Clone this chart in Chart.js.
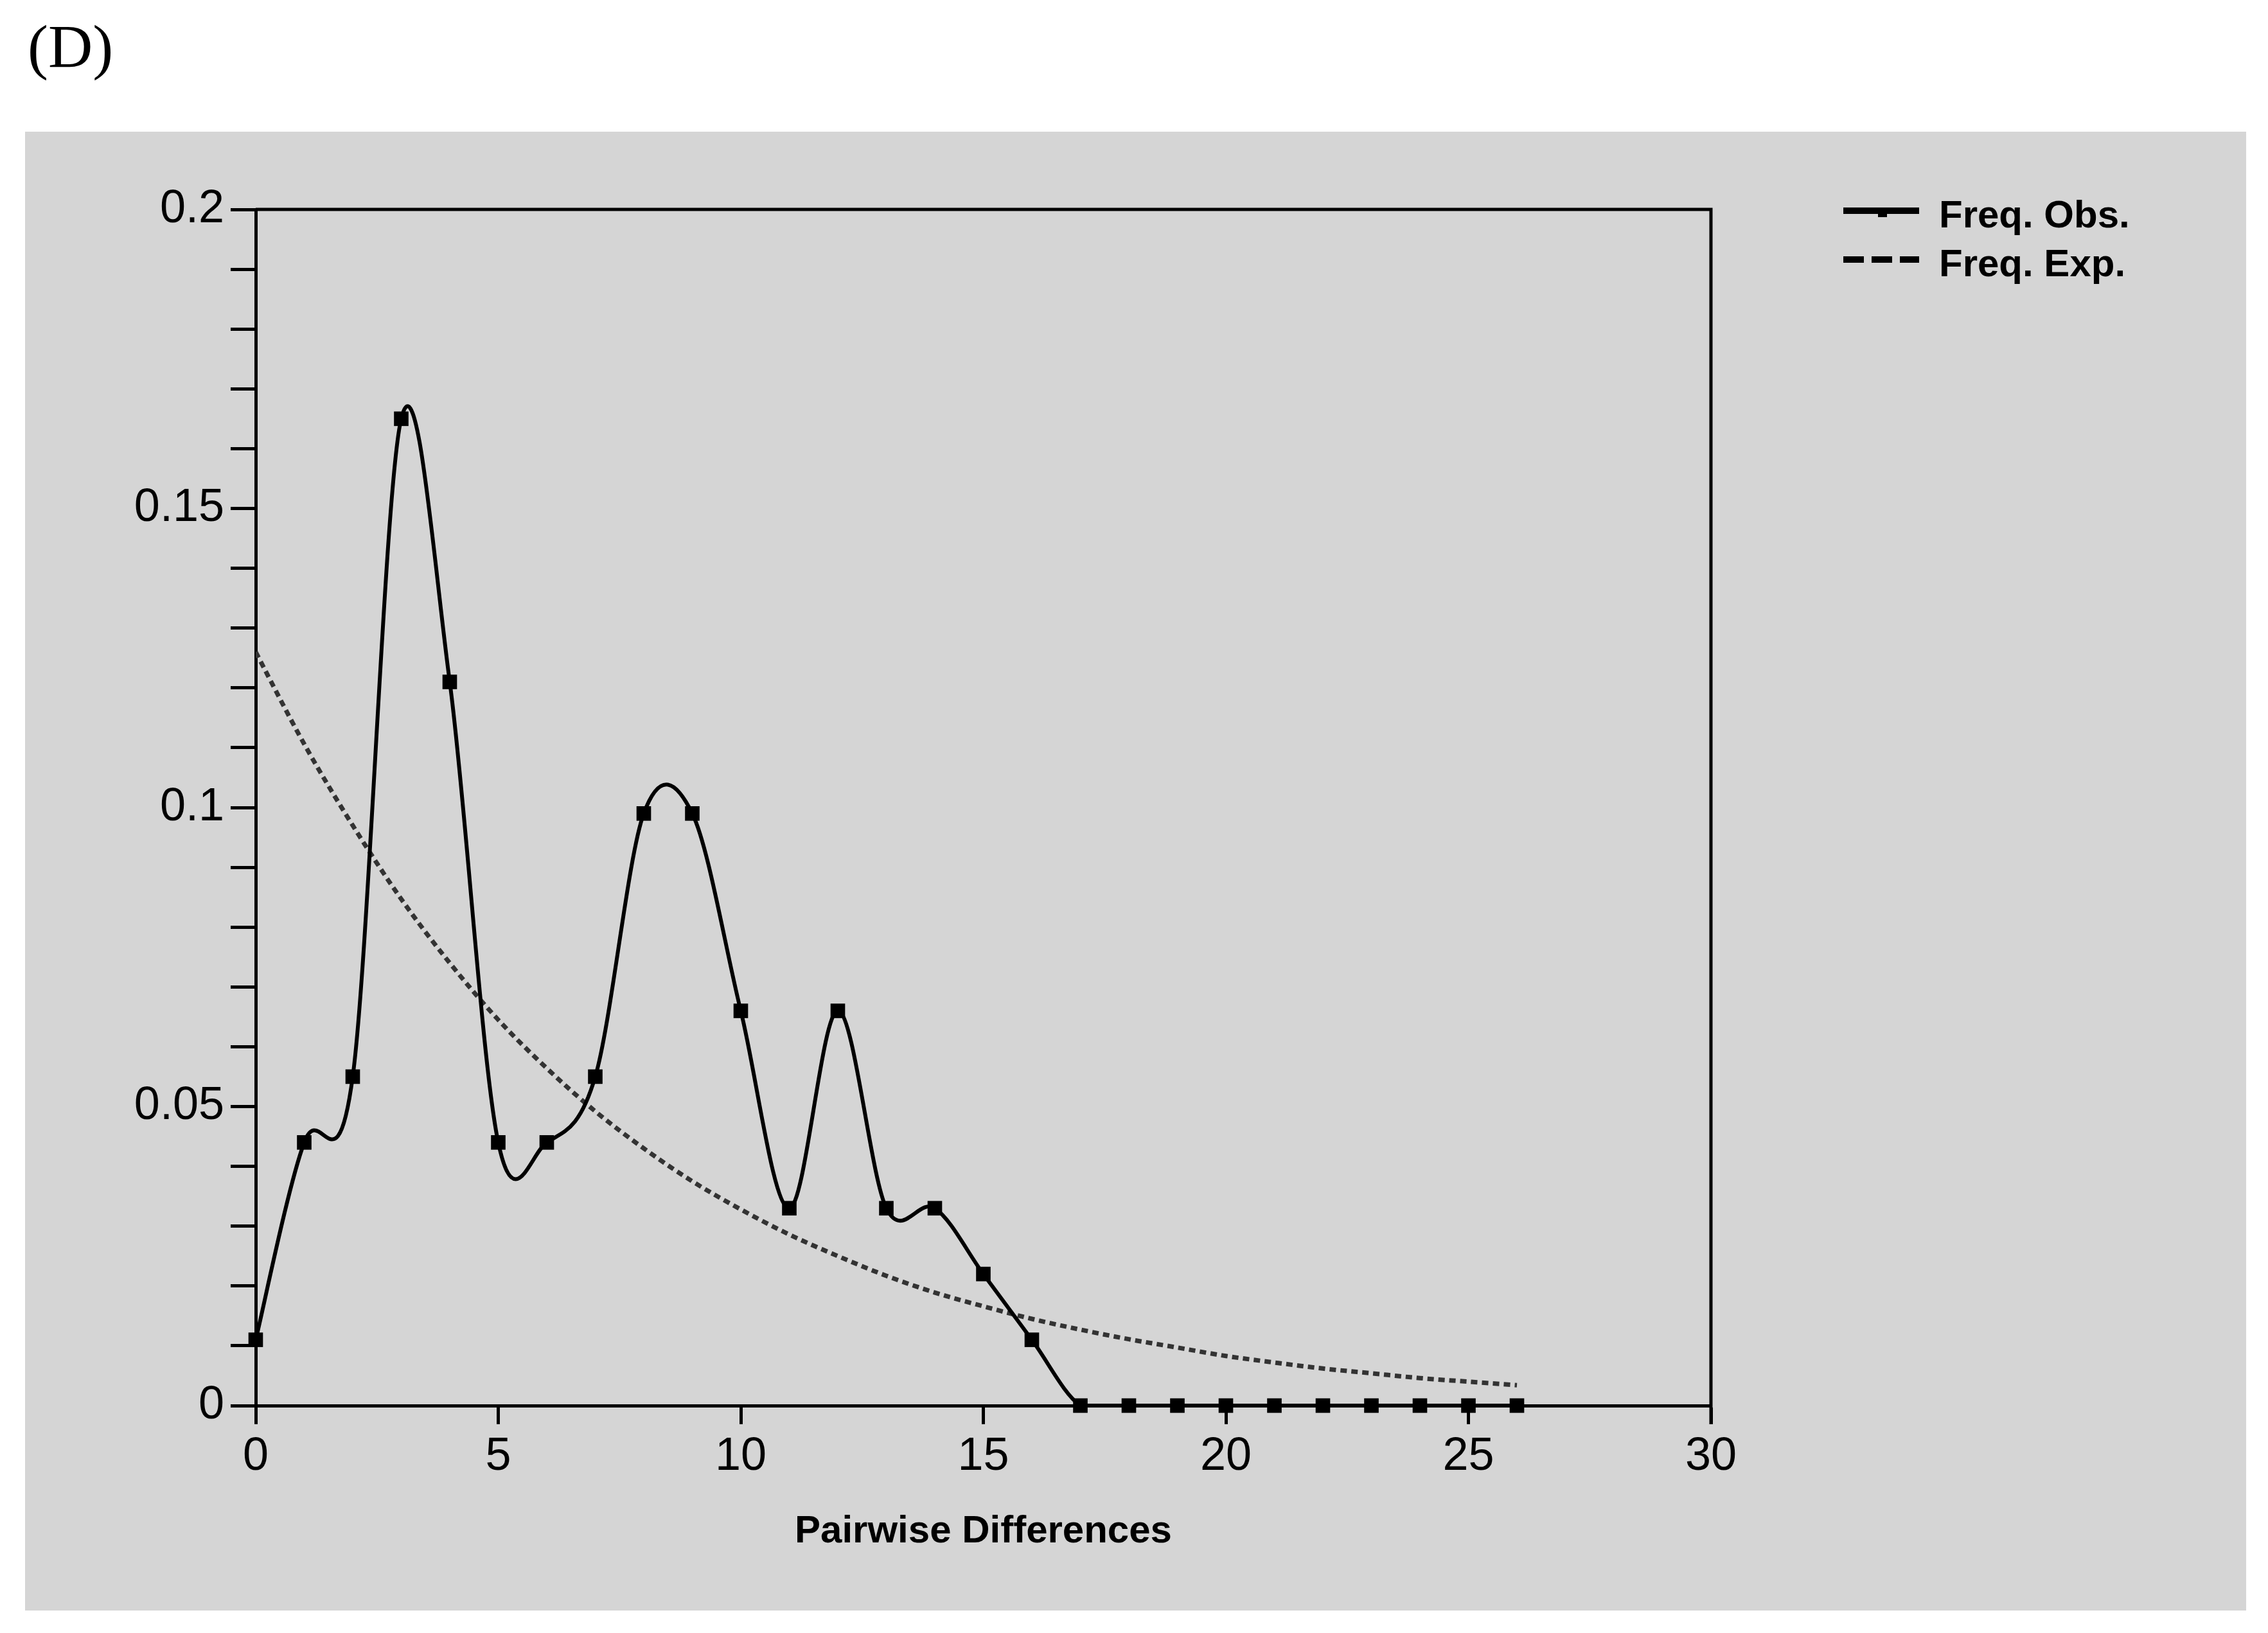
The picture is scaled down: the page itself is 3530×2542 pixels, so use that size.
<!DOCTYPE html>
<html>
<head>
<meta charset="utf-8">
<script src="https://cdn.jsdelivr.net/npm/chart.js@4.4.1/dist/chart.umd.min.js"></script>
<style>
html,body{margin:0;padding:0;background:#fff;overflow:hidden}
canvas{display:block}
</style>
</head>
<body>
<canvas id="c" width="3530" height="2542"></canvas>
<script>
// ---------------- data ----------------
const pairwiseDiff = [0,1,2,3,4,5,6,7,8,9,10,11,12,13,14,15,16,17,18,19,20,21,22,23,24,25,26];
const freqObs = [0.011,0.044,0.055,0.165,0.121,0.044,0.044,0.055,0.099,0.099,0.066,0.033,0.066,0.033,0.033,0.022,0.011,0,0,0,0,0,0,0,0,0,0];
const freqExp = [0.126,0.1106,0.0970,0.0847,0.0740,0.0645,0.0564,0.0492,0.0430,0.0375,0.0328,0.0286,0.0250,0.0217,0.0189,0.0166,0.0145,0.0127,0.0111,0.0097,0.0083,0.0072,0.0062,0.0054,0.0046,0.0040,0.0034];
const seriesNames = ['Freq. Obs.', 'Freq. Exp.'];
const xTickLabels = ['0','5','10','15','20','25','30'];
const yTickLabels = ['0','0.05','0.1','0.15','0.2'];
const panelLabel = '(D)';
const xAxisTitle = 'Pairwise Differences';

// ---------------- styling ----------------
const TICK_FONT = '"Liberation Sans Narrow", "Liberation Sans", Arial, sans-serif';
const BOLD_FONT = '"Liberation Sans", Arial, sans-serif';

const obsPoints = pairwiseDiff.map((x, i) => ({x: x, y: freqObs[i]}));
const expPoints = pairwiseDiff.map((x, i) => ({x: x, y: freqExp[i]}));

// Cardinal (Catmull-Rom) control points computed from the library's pixel positions
const cardinalSpline = {
  id: 'cardinalSpline',
  beforeDatasetDraw(chart, args) {
    const meta = args.meta;
    const line = meta.dataset;
    if (!line || !line.updateControlPoints) return;
    line.updateControlPoints(chart.chartArea, meta.iScale.axis);
    const bottom = chart.chartArea.bottom;
    const pts = meta.data;
    const n = pts.length;
    for (let i = 0; i < n; i++) {
      const p = pts[i];
      const prev = pts[Math.max(0, i - 1)];
      const next = pts[Math.min(n - 1, i + 1)];
      const dx = (next.x - prev.x) / 6, dy = (next.y - prev.y) / 6;
      p.cp1x = p.x - dx; p.cp1y = Math.min(p.y - dy, bottom);
      p.cp2x = p.x + dx; p.cp2y = Math.min(p.y + dy, bottom);
    }
    line._path = undefined;
  }
};

const decorations = {
  id: 'decorations',
  beforeDraw(chart) {
    const ctx = chart.ctx;
    ctx.save();
    ctx.fillStyle = '#ffffff';
    ctx.fillRect(0, 0, chart.width, chart.height);
    ctx.fillStyle = '#d5d5d5';
    ctx.fillRect(39, 205, 3457, 2302);
    ctx.fillStyle = '#000';
    ctx.font = '96px "Liberation Serif", "Times New Roman", serif';
    ctx.textBaseline = 'alphabetic';
    ctx.textAlign = 'left';
    ctx.fillText(panelLabel, 43, 105);
    ctx.restore();
  },
  afterDraw(chart) {
    const ctx = chart.ctx;
    const a = chart.chartArea;
    ctx.save();
    // top and right frame
    ctx.strokeStyle = '#000';
    ctx.lineWidth = 5;
    ctx.beginPath();
    ctx.moveTo(a.left, a.top);
    ctx.lineTo(a.right, a.top);
    ctx.lineTo(a.right, a.bottom + 29);
    ctx.stroke();
    // legend
    const ds = chart.data.datasets;
    ctx.lineWidth = 10;
    ctx.lineCap = 'butt';
    ctx.strokeStyle = '#000';
    ctx.setLineDash([]);
    ctx.beginPath();
    ctx.moveTo(2869, 328); ctx.lineTo(2987, 328);
    ctx.stroke();
    ctx.fillStyle = '#000';
    ctx.fillRect(2923, 328, 14, 10);
    ctx.setLineDash([32, 12]);
    ctx.beginPath();
    ctx.moveTo(2869, 404); ctx.lineTo(2987, 404);
    ctx.stroke();
    ctx.setLineDash([]);
    ctx.font = 'bold 60px ' + BOLD_FONT;
    ctx.textBaseline = 'alphabetic';
    ctx.textAlign = 'left';
    ctx.fillText(ds[0].label, 3018, 354);
    ctx.fillText(ds[1].label, 3018, 430);
    ctx.restore();
  }
};

new Chart(document.getElementById('c').getContext('2d'), {
  type: 'line',
  data: {
    datasets: [
      {
        label: seriesNames[0],
        data: obsPoints,
        borderColor: '#000',
        borderWidth: 6,
        tension: 0.5,
        pointStyle: 'rect',
        pointRadius: 16,
        pointBackgroundColor: '#000',
        pointBorderColor: '#000',
        pointBorderWidth: 0,
        fill: false,
        clip: false
      },
      {
        label: seriesNames[1],
        data: expPoints,
        borderColor: '#333333',
        borderWidth: 7,
        borderDash: [10, 7],
        tension: 0.5,
        pointRadius: 0,
        fill: false
      }
    ]
  },
  options: {
    responsive: false,
    animation: false,
    devicePixelRatio: 1,
    layout: { padding: { left: 0, top: 326, right: 867, bottom: 0 } },
    plugins: { legend: { display: false }, tooltip: { enabled: false } },
    events: [],
    scales: {
      x: {
        type: 'linear',
        min: 0, max: 30,
        ticks: {
          stepSize: 5,
          autoSkip: false,
          maxRotation: 0,
          color: '#000',
          padding: 8,
          font: { family: TICK_FONT, size: 72 },
          callback: (v) => xTickLabels[Math.round(v / 5)]
        },
        grid: { display: true, drawOnChartArea: false, drawTicks: true, tickLength: 29, tickWidth: 5, tickColor: '#000' },
        border: { display: true, color: '#000', width: 5 },
        title: {
          display: true,
          text: xAxisTitle,
          color: '#000',
          font: { family: BOLD_FONT, size: 60, weight: 'bold' },
          padding: { top: 0, bottom: 122 }
        },
        afterFit: (s) => { s.height = 354; }
      },
      y: {
        type: 'linear',
        min: 0, max: 0.2,
        ticks: {
          stepSize: 0.01,
          maxTicksLimit: 100,
          autoSkip: false,
          color: '#000',
          padding: 10,
          font: { family: TICK_FONT, size: 72 },
          callback: (v) => {
            const k = Math.round(v / 0.05);
            return Math.abs(v - k * 0.05) < 1e-9 ? yTickLabels[k] : '';
          }
        },
        grid: { display: true, drawOnChartArea: false, drawTicks: true, tickLength: 39, tickWidth: 5, tickColor: '#000' },
        border: { display: true, color: '#000', width: 5 },
        afterFit: (s) => { s.width = 398; }
      }
    }
  },
  plugins: [decorations, cardinalSpline]
});
</script>
</body>
</html>
